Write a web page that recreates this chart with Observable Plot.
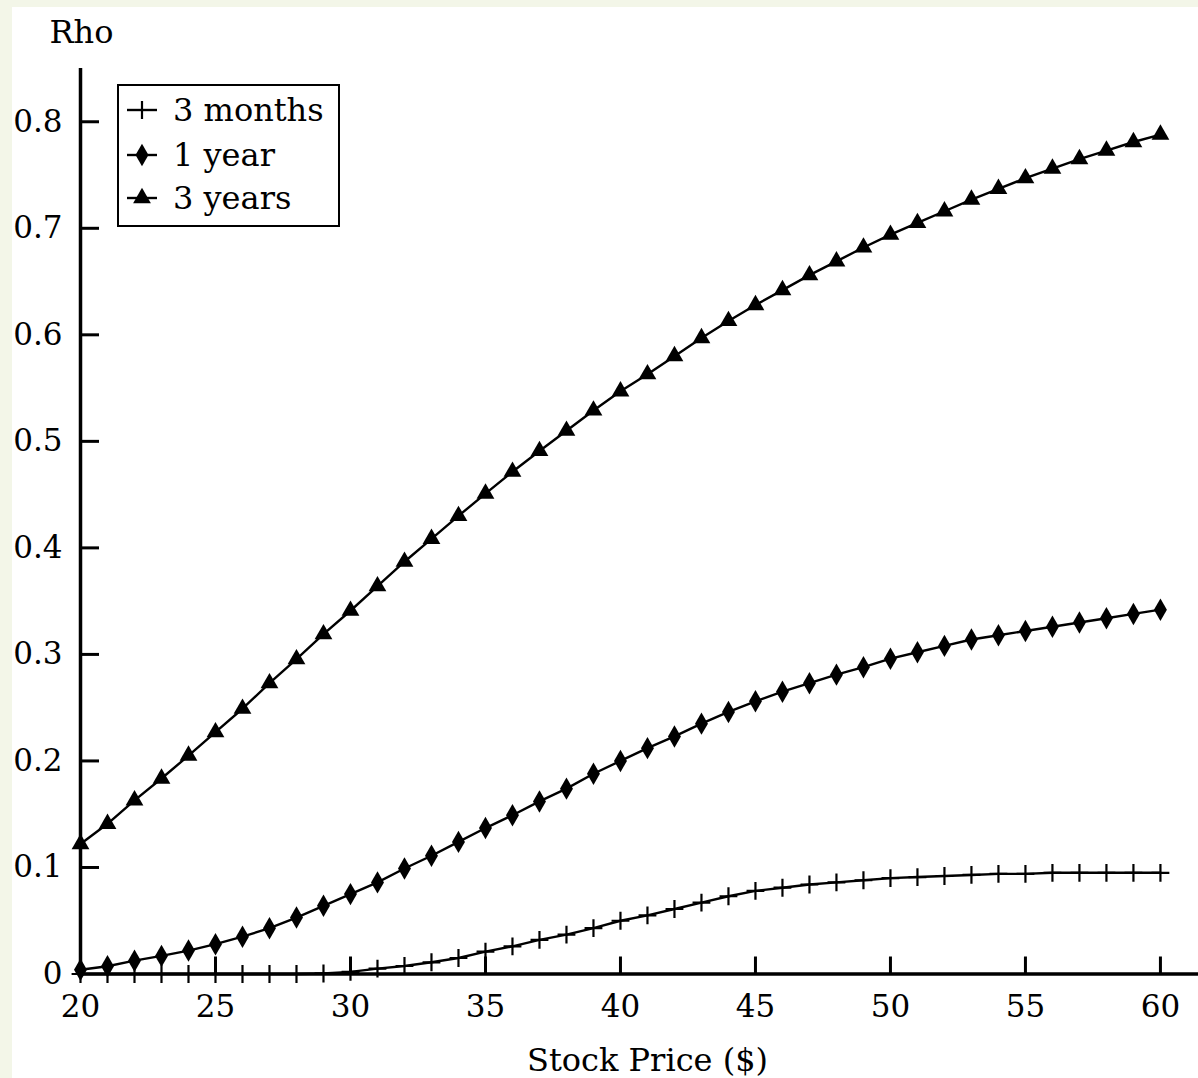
<!DOCTYPE html>
<html><head><meta charset="utf-8">
<script src="https://cdn.jsdelivr.net/npm/d3@7"></script>
<script src="https://cdn.jsdelivr.net/npm/@observablehq/plot@0.6"></script>
<style>
html,body{margin:0;padding:0;background:#f3f6e8;}
#wrap{position:absolute;left:12px;top:7px;width:1186px;height:1071px;background:#fff;overflow:hidden;}
#legend{position:absolute;left:105px;top:77px;width:219px;height:139px;border:2px solid #000;background:#fff;font-family:'DejaVu Serif',serif;font-size:32px;color:#000;}
.row{position:absolute;left:0;height:44px;width:219px;}
.row svg{position:absolute;left:0;top:0;}
.row span{position:absolute;left:54px;top:0;line-height:44px;white-space:nowrap;}
</style></head>
<body><div id="wrap"><div id="chart"></div><div id="legend"></div></div>
<script>
// Data
const stockPrices = [20,21,22,23,24,25,26,27,28,29,30,31,32,33,34,35,36,37,38,39,40,41,42,43,44,45,46,47,48,49,50,51,52,53,54,55,56,57,58,59,60];
const rho3m = [0,0,0,0,0,0,0,0,0,0.0005,0.002,0.005,0.0075,0.011,0.015,0.021,0.026,0.032,0.037,0.043,0.050,0.055,0.061,0.067,0.073,0.078,0.081,0.084,0.086,0.088,0.090,0.091,0.092,0.093,0.094,0.094,0.095,0.095,0.095,0.095,0.095];
const rho1y = [0.004,0.0073,0.0125,0.017,0.022,0.028,0.035,0.043,0.053,0.064,0.075,0.086,0.099,0.111,0.124,0.137,0.149,0.162,0.174,0.188,0.200,0.212,0.223,0.235,0.246,0.256,0.265,0.273,0.281,0.288,0.296,0.302,0.308,0.314,0.318,0.322,0.326,0.330,0.334,0.338,0.342];
const rho3y = [0.122,0.141,0.163,0.1835,0.205,0.227,0.249,0.273,0.2955,0.319,0.341,0.364,0.387,0.4085,0.430,0.451,0.4715,0.491,0.510,0.529,0.547,0.563,0.580,0.597,0.613,0.628,0.642,0.656,0.669,0.682,0.694,0.705,0.716,0.727,0.737,0.747,0.756,0.765,0.773,0.781,0.788];
const seriesNames = ["3 months", "1 year", "3 years"];
const seriesSymbols = ["plus", "diamond", "triangle"];
const xTicks = [20,25,30,35,40,45,50,55,60];
const yTicks = [0,0.1,0.2,0.3,0.4,0.5,0.6,0.7,0.8];
const yTickMarks = [0.1,0.2,0.3,0.4,0.5,0.6,0.7,0.8];
const xLabel = "Stock Price ($)";
const yLabel = "Rho";

const seriesValues = [rho3m, rho1y, rho3y];
const rows = seriesNames.flatMap((name, s) => stockPrices.map((p, i) => ({series: name, price: p, rho: seriesValues[s][i]})));
const bySeries = name => rows.filter(d => d.series === name);

const symbolStyle = {
  "plus": {r: 5.8, fill: "none", stroke: "#000", strokeWidth: 2.2},
  "diamond": {r: 6.8, fill: "#000", stroke: "none"},
  "triangle": {r: 6.6, fill: "#000", stroke: "none"}
};

const marks = [
  Plot.ruleX([20], {strokeWidth: 3.5}),
  Plot.ruleY([0], {strokeWidth: 3.5}),
  Plot.axisX(xTicks, {tickSize: -17, fill: "none", strokeWidth: 3, label: null}),
  Plot.axisX(xTicks, {tickSize: 0, tickPadding: 21, label: null, tickFormat: d => String(d)}),
  Plot.axisY(yTickMarks, {tickSize: -19, fill: "none", strokeWidth: 3, label: null}),
  Plot.axisY(yTicks, {tickSize: 0, tickPadding: 18, label: null, tickFormat: d => d === 0 ? "0" : d.toFixed(1)}),
];
seriesNames.forEach((name, s) => {
  const data = bySeries(name);
  marks.push(Plot.line(data, {x: "price", y: "rho", stroke: "#000", strokeWidth: 2.4}));
  marks.push(Plot.dot(data, {x: "price", y: "rho", symbol: () => seriesSymbols[s], ...symbolStyle[seriesSymbols[s]]}));
});
marks.push(Plot.text([yLabel], {text: d => d, frameAnchor: "top-left", dx: 1, dy: -36, textAnchor: "middle", lineAnchor: "middle", fontSize: 32}));
marks.push(Plot.text([xLabel], {text: d => d, frameAnchor: "bottom", dx: 8, dy: 87, textAnchor: "middle", lineAnchor: "middle", fontSize: 32}));

const chart = Plot.plot({
  width: 1186, height: 1071,
  marginLeft: 68, marginRight: 0, marginTop: 61, marginBottom: 104.5,
  x: {domain: [20, 61.41]},
  y: {domain: [0, 0.85]},
  symbol: {type: "identity"},
  style: {fontFamily: "'DejaVu Serif', serif", fontSize: "31px", color: "#000", background: "transparent", overflow: "visible"},
  marks
});
document.getElementById("chart").appendChild(chart);

// Legend
const legend = document.getElementById("legend");
const symMap = {plus: d3.symbolPlus, diamond: d3.symbolDiamond, triangle: d3.symbolTriangle};
const rowCenters = [24, 69, 112];
seriesNames.forEach((name, s) => {
  const key = seriesSymbols[s];
  const st = symbolStyle[key];
  const row = document.createElement("div");
  row.className = "row";
  row.style.top = (rowCenters[s] - 22) + "px";
  const path = d3.symbol(symMap[key], st.r * st.r * Math.PI)();
  row.innerHTML = `<svg width="50" height="44"><line x1="8" x2="38" y1="22" y2="22" stroke="#000" stroke-width="2.4"/>` +
    `<path transform="translate(23,22)" d="${path}" fill="${st.fill}" stroke="${st.stroke}" stroke-width="${st.strokeWidth || 0}"/></svg>` +
    `<span>${name}</span>`;
  legend.appendChild(row);
});
</script>
</body></html>
